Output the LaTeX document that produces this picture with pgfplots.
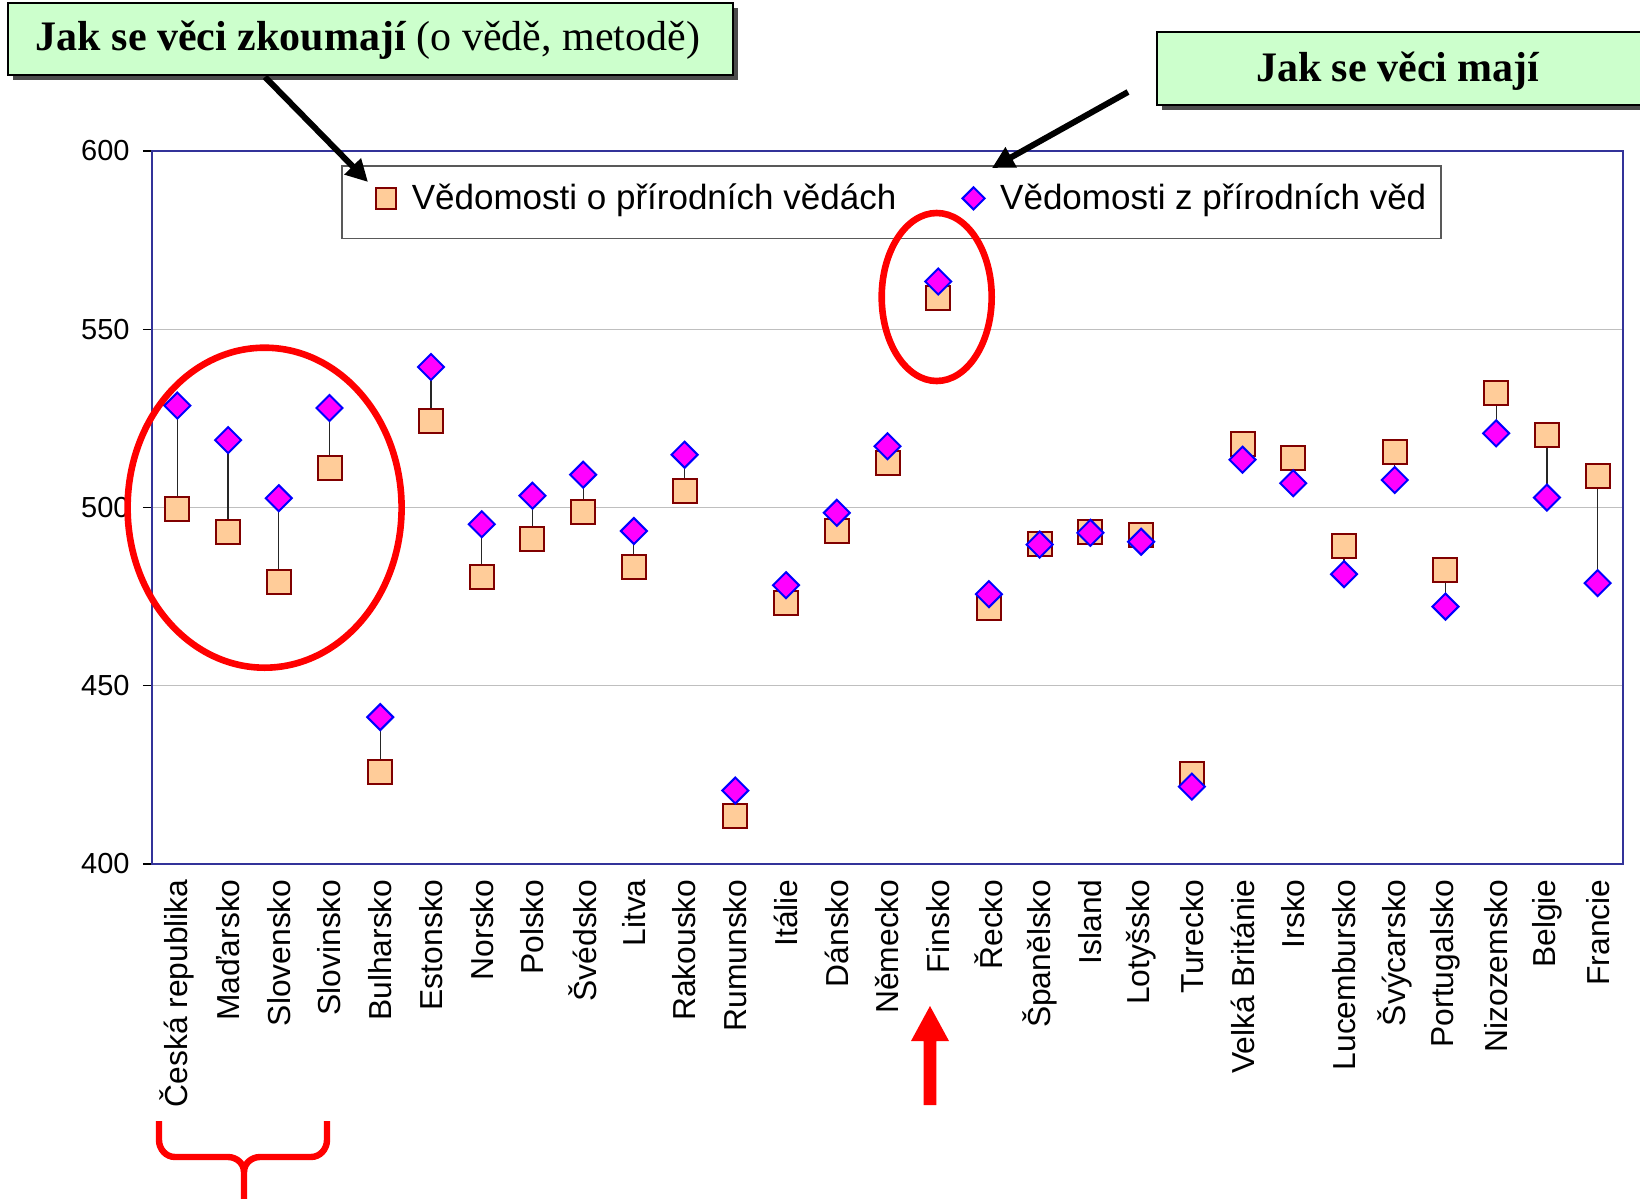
\documentclass[border=0pt]{standalone}
\usepackage{fontspec}
\setmainfont{Liberation Sans}
\newfontfamily\timesfont{Liberation Serif}
\usepackage{pgfplots}
\pgfplotsset{compat=1.18}
\usepackage{pgfplotstable}
\usetikzlibrary{arrows.meta}
\definecolor{sqfill}{HTML}{FFCC99}
\definecolor{sqdraw}{HTML}{800000}
\definecolor{dimfill}{HTML}{FF00FF}
\definecolor{dimdraw}{HTML}{0000FF}
\definecolor{axisblue}{HTML}{333399}
\definecolor{boxgreen}{HTML}{CCFFCC}

\pgfplotstableread{
x sq di
0 499.5 528.6
1 493.1 518.9
2 479.2 502.6
3 511.1 527.9
4 425.8 441.2
5 524.3 539.4
6 480.6 495.3
7 491.3 503.3
8 498.8 509.2
9 483.2 493.4
10 504.7 514.8
11 413.6 420.6
12 473.1 478.2
13 493.3 498.5
14 512.6 517.2
15 558.7 563.4
16 471.9 475.7
17 489.9 489.6
18 493.1 492.9
19 492.4 490.4
20 425.3 421.7
21 517.9 513.4
22 513.8 506.8
23 489.2 481.3
24 515.5 507.7
25 482.5 472.2
26 532.0 520.8
27 520.4 502.8
28 508.9 478.8
}\data

\begin{document}
\begin{tikzpicture}
\useasboundingbox (0,0) rectangle (820pt,-599.5pt);
\begin{axis}[
  at={(76pt,-75.5pt)}, anchor=north west,
  scale only axis, width=735.5pt, height=356.5pt,
  xmin=-0.5, xmax=28.5, ymin=400, ymax=600,
  ytick={400,450,...,600},
  xtick={0,...,28},
  xticklabels={Česká republika,Maďarsko,Slovensko,Slovinsko,Bulharsko,Estonsko,Norsko,Polsko,Švédsko,Litva,Rakousko,Rumunsko,Itálie,Dánsko,Německo,Finsko,Řecko,Španělsko,Island,Lotyšsko,Turecko,Velká Británie,Irsko,Lucembursko,Švýcarsko,Portugalsko,Nizozemsko,Belgie,Francie},
  x tick style={draw=none},
  ytick pos=left,
  tick align=outside,
  major tick length=4.5pt,
  y tick style={black, line width=0.6pt},
  ymajorgrids,
  grid style={black!25, line width=0.6pt},
  axis line style={draw=axisblue, line width=1.1pt},
  /pgf/number format/assume math mode=true,
  xticklabel style={rotate=90, anchor=east, inner sep=0pt, font=\fontsize{15.9}{18}\selectfont},
  xticklabel shift=3pt,
  yticklabel style={inner sep=0pt, font=\fontsize{14.5}{17}\selectfont},
  yticklabel shift=6.5pt,
  legend columns=2,
  legend cell align=left,
  legend image code/.code={\draw[mark repeat=2,mark phase=2,#1,/tikz/every mark/.append style={scale=0.85}] plot coordinates {(0cm,0cm) (0.3cm,0cm) (0.6cm,0cm)};},
  legend style={at={(0.1292,0.979)}, anchor=north west, draw=none, fill=none,
    font=\fontsize{17.5}{20}\selectfont, inner xsep=16.7pt, inner ysep=6.8pt,
    nodes={inner xsep=7.8pt},
    /tikz/every even column/.append style={column sep=25.3pt}},
]
\addplot[only marks, mark=none, forget plot,
  error bars/.cd, y dir=both, y explicit, error mark=none,
  error bar style={draw=black!85, line width=0.6pt}]
  table[x=x, y=sq, y error plus expr={max(\thisrow{di}-\thisrow{sq},0)}, y error minus expr={max(\thisrow{sq}-\thisrow{di},0)}] {\data};
\addplot[only marks, mark=square*, mark size=6pt,
  mark options={fill=sqfill, draw=sqdraw, line width=1pt}]
  table[x=x, y=sq] {\data};
\addlegendentry{Vědomosti o přírodních vědách}
\addplot[only marks, mark=square*, mark size=4.6pt,
  mark options={fill=dimfill, draw=dimdraw, line width=1pt, rotate=45}]
  table[x=x, y=di] {\data};
\addlegendentry{Vědomosti z přírodních věd}
\end{axis}
\begin{scope}[x=0.5pt,y=-0.5pt]
% legend frame
\draw[black!65, line width=0.6pt] (342,166) rectangle (1441,238.5);
% green boxes
\fill[black!70] (13,8) rectangle (738,80);
\filldraw[fill=boxgreen, draw=black, line width=0.8pt] (8,3) rectangle (733,75);
\node at (368,40) {\timesfont\fontsize{21}{24}\selectfont\textbf{Jak se věci zkoumají} (o vědě, metodě)};
\fill[black!70] (1162,37) rectangle (1660,110);
\filldraw[fill=boxgreen, draw=black, line width=0.8pt] (1157,32) rectangle (1660,105);
\node at (1398,71) {\timesfont\fontsize{21}{24}\selectfont\textbf{Jak se věci mají}};
% black arrows
\draw[line width=3pt, -{Triangle[length=11pt,width=11pt]}] (265,77) -- (368,182);
\draw[line width=3pt, -{Triangle[length=11pt,width=11pt]}] (1128,92) -- (992,168);
% red ellipses
\draw[red, line width=3.3pt] (264.6,507.7) ellipse [x radius=137, y radius=160];
\draw[red, line width=3.3pt] (936.7,297) ellipse [x radius=55, y radius=84];
% red arrow
\fill[red] (923.7,1105) -- (923.7,1041) -- (911,1041) -- (930,1006) -- (949,1041) -- (936.3,1041) -- (936.3,1105) -- cycle;
% red brace
\draw[red, line width=3.2pt] (159,1121) -- (159,1140) to[out=-90,in=180] (175,1157) -- (228,1157) to[out=0,in=90] (244,1172) -- (244,1205);
\draw[red, line width=3.2pt] (327,1121) -- (327,1140) to[out=-90,in=0] (311,1157) -- (260,1157) to[out=180,in=90] (244,1172);
\end{scope}
\end{tikzpicture}
\end{document}
